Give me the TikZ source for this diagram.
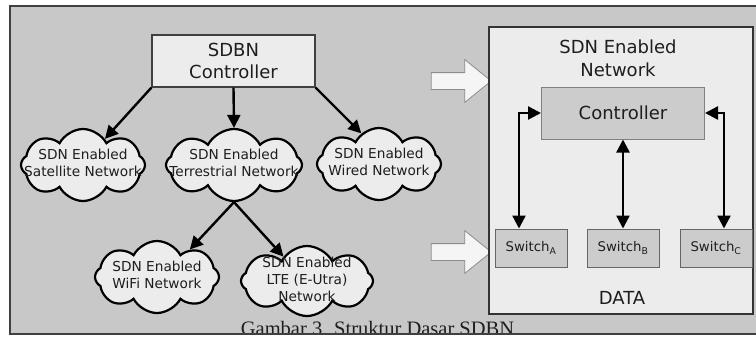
\documentclass[tikz,border=0pt]{standalone}
\usepackage{fontspec}
\setmainfont{DejaVu Sans}
\newfontfamily\capfont{Liberation Serif}
\usetikzlibrary{positioning, shapes.symbols, shapes.arrows, arrows.meta}

\definecolor{framegray}{RGB}{200,200,200}
\definecolor{paper}{RGB}{236,236,236}
\definecolor{boxgray}{RGB}{204,204,204}
\definecolor{inkgray}{RGB}{30,30,30}

\newcommand{\cloudlines}[1]{\makebox[0pt]{\begin{tabular}{@{}c@{}}#1\end{tabular}}}

\tikzset{
  netcloud/.style={cloud, cloud puffs=8, cloud puff arc=125, cloud ignores aspect, draw=black, line width=2.2pt,
    fill=paper, minimum width=124pt, minimum height=72pt, inner sep=0pt, text=inkgray,
    font=\fontsize{13.7}{17}\selectfont},
  link/.style={-{Triangle[length=13pt,width=13pt]}, line width=2.4pt},
  dlink/.style={{Triangle[length=13pt,width=13pt]}-{Triangle[length=13pt,width=13pt]}, line width=2.4pt},
  sdbnbox/.style={draw=black!75, line width=1.2pt, fill=paper, minimum width=163pt, minimum height=52pt,
    align=center, text=inkgray, font=\fontsize{18}{22}\selectfont},
  ctrlbox/.style={draw=black!50, line width=1pt, fill=boxgray, minimum width=163pt, minimum height=52pt,
    text=inkgray, font=\fontsize{18}{22}\selectfont},
  swbox/.style={draw=black!60, line width=1pt, fill=boxgray, minimum width=72pt, minimum height=38pt,
    text=inkgray, font=\fontsize{13.3}{16}\selectfont},
  bigarrow/.style={single arrow, draw=black!45, fill=white!96!black, line width=.8pt, inner sep=0pt,
    inner ysep=8pt, minimum height=60pt, single arrow head extend=13pt, single arrow tip angle=78},
  panel/.style={draw=black!80, line width=1.5pt, fill=paper, minimum width=264pt, minimum height=287pt}
}

\begin{document}
\begin{tikzpicture}[x=1pt, y=-1pt]
  \useasboundingbox (0,0) rectangle (756,338);
  \fill[white] (0,0) rectangle (756,338);
  \fill[framegray] (10,6) rectangle (770,334);

  % left: SDBN and its networks
  \node[sdbnbox] (sdbn) at (233.5,61) {SDBN\\Controller};
  \node[netcloud] (sat) at (83,165) {\cloudlines{SDN Enabled\\Satellite Network}};
  \node[netcloud, minimum width=136pt] (terr) at (234,165) {\cloudlines{SDN Enabled\\Terrestrial Network}};
  \node[netcloud] (wired) at (379,164) {\cloudlines{SDN Enabled\\Wired Network}};
  \node[netcloud] (wifi) at (157,277) {\cloudlines{SDN Enabled\\WiFi Network}};
  \node[netcloud, minimum width=132pt, minimum height=70pt] (lte) at (307,281) {\cloudlines{SDN Enabled\\LTE (E-Utra)\\Network}};

  \draw[link] (sdbn.south west) -- (sat.50);
  \draw[link] (sdbn.south) -- (terr.north);
  \draw[link] (sdbn.south east) -- (wired.120);
  \draw[link] (terr.south) -- (wifi.40);
  \draw[link] (terr.south) -- (lte.134);

  \node[bigarrow] (in1) at (456,81) {};
  \node[bigarrow] (in2) at (456,252) {};

  % right: SDN enabled network
  \node[panel] (panel) at (621,170.5) {};
  \node[align=center, text=inkgray, font=\fontsize{18}{23}\selectfont] (title) at (618,58) {SDN Enabled\\Network};
  \node[ctrlbox] (ctrl) at (623,113) {Controller};
  \node[swbox] (swA) at (531,248) {Switch\textsubscript{A}};
  \node[swbox] (swB) at (623,248) {Switch\textsubscript{B}};
  \node[swbox] (swC) at (716,248) {Switch\textsubscript{C}};
  \node[text=inkgray, font=\fontsize{18}{22}\selectfont] (data) at (622,298) {DATA};

  \draw[dlink] ([xshift=-12pt]swA.north) |- (ctrl.west);
  \draw[dlink] (ctrl.south) -- (swB.north);
  \draw[dlink] ([xshift=8pt]swC.north) |- (ctrl.east);

  \begin{scope}
    \clip (0,0) rectangle (756,334);
    \node[anchor=base, text=inkgray, font=\capfont\fontsize{20.5}{24}\selectfont] (caption) at (377.5,335.5) {Gambar 3. Struktur Dasar SDBN};
  \end{scope}
  \draw[black!75, line width=2pt] (770,6) -- (10,6) -- (10,334) -- (770,334);
\end{tikzpicture}
\end{document}
